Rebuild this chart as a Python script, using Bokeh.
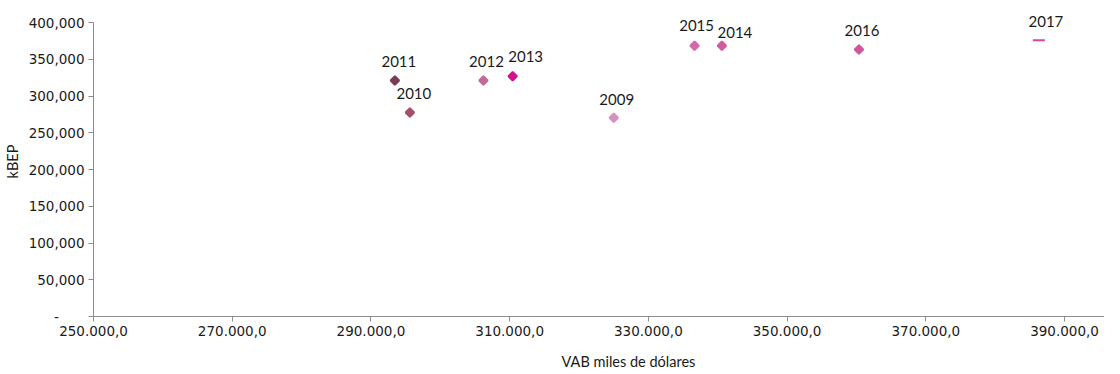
import math
from bokeh.plotting import figure
from bokeh.models import ColumnDataSource, Range1d, CustomJSTickFormatter, FixedTicker
from bokeh.core.properties import value
from bokeh.embed import file_html
from bokeh.resources import INLINE

# data
years = ["2009", "2010", "2011", "2012", "2013", "2014", "2015", "2016", "2017"]
vab = [325010, 295610, 293450, 306220, 310430, 340600, 336660, 360360, 386300]
kbep = [270340, 277550, 321090, 321090, 326940, 368300, 368300, 363270, 375920]
x_ticks = [250000, 270000, 290000, 310000, 330000, 350000, 370000, 390000]
y_ticks = [0, 50000, 100000, 150000, 200000, 250000, 300000, 350000, 400000]

# styles
colors = ["#d98fc0", "#a24f70", "#7b3a56", "#c06b98", "#d4108c",
          "#cc5e9c", "#d06aa8", "#d0559c", "#d34a98"]
markers = ["square"] * 8 + ["dash"]
sizes = [6] * 8 + [12]
angles = [math.pi / 4] * 8 + [0]
lab_dx = [3, 4, 4, 3, 13, 13, 2, 3, 7]
lab_dy = [-18, -19, -19, -19, -20, -13, -20, -19, -19]

src = ColumnDataSource(dict(x=vab, y=kbep, year=years, color=colors, angle=angles,
                            marker=markers, size=sizes, dx=lab_dx, dy=lab_dy))

p = figure(width=1104, height=374, output_backend="svg", toolbar_location=None,
           x_range=Range1d(250000, 395760), y_range=Range1d(0, 421770),
           min_border_left=91, min_border_right=0, min_border_top=6,
           min_border_bottom=58)
p.outline_line_color = None
p.xgrid.grid_line_color = None
p.ygrid.grid_line_color = None

p.scatter("x", "y", source=src, marker="marker", size="size", angle="angle",
          fill_color="color", line_color="color", line_width=2)
p.text("x", "y", text="year", source=src, x_offset="dx", y_offset="dy",
       text_align="center", text_baseline="middle", text_font=value("Lato"),
       text_font_size="15px", text_color="#1a1a1a")

for ax in (p.xaxis[0], p.yaxis[0]):
    ax.axis_line_color = "#8c8c8c"
    ax.major_tick_line_color = "#8c8c8c"
    ax.major_tick_out = 5
    ax.major_tick_in = 0
    ax.minor_tick_line_color = None
    ax.major_label_text_font = "DejaVu Sans"
    ax.major_label_text_font_size = "13.5px"
    ax.major_label_text_color = "#1a1a1a"
    ax.axis_label_text_font = "Lato"
    ax.axis_label_text_font_style = "normal"
    ax.axis_label_text_font_size = "14.5px"
    ax.axis_label_text_color = "#1a1a1a"

p.yaxis.bounds = (0, 400000)
p.xaxis.ticker = FixedTicker(ticks=x_ticks)
p.yaxis.ticker = FixedTicker(ticks=y_ticks)
p.xaxis.major_label_standoff = 4
p.yaxis.major_label_standoff = 4
p.xaxis.formatter = CustomJSTickFormatter(code="""
    const s = Math.round(tick).toString().replace(/\\B(?=(\\d{3})+(?!\\d))/g, '.');
    return s + ',0';
""")
p.yaxis.formatter = CustomJSTickFormatter(code="""
    if (tick == 0) return '-\\u00a0\\u00a0\\u00a0\\u00a0\\u00a0\\u00a0';
    return Math.round(tick).toString().replace(/\\B(?=(\\d{3})+(?!\\d))/g, ',');
""")
p.yaxis.axis_label = "kBEP"
p.yaxis.axis_label_standoff = 5
p.xaxis.axis_label = "\u00a0" * 16 + "VAB miles de dólares"
p.xaxis.axis_label_standoff = 14

open("out.html", "w").write(file_html(p, INLINE))
